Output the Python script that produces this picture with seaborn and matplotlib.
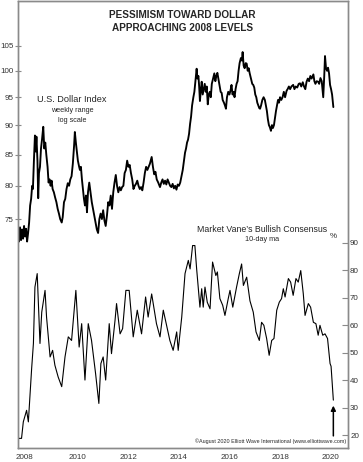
import numpy as np
import pandas as pd
import matplotlib
matplotlib.use("Agg")
import matplotlib.pyplot as plt
import seaborn as sns

# ---------------- data ----------------
usd_year = [2008.13, 2008.17, 2008.21, 2008.25, 2008.29, 2008.33, 2008.37, 2008.41, 2008.45, 2008.49,
            2008.53, 2008.57, 2008.61, 2008.65, 2008.69, 2008.72, 2008.76, 2008.80, 2008.83, 2008.86,
            2008.90, 2008.93, 2008.96, 2009.00, 2009.04, 2009.08, 2009.13, 2009.17, 2009.21, 2009.25,
            2009.30, 2009.34, 2009.38, 2009.42, 2009.46, 2009.50, 2009.55, 2009.60, 2009.65, 2009.70,
            2009.75, 2009.80, 2009.86, 2009.90, 2009.95, 2010.00, 2010.05, 2010.10, 2010.15, 2010.20,
            2010.25, 2010.30, 2010.35, 2010.38, 2010.42, 2010.46, 2010.50, 2010.55, 2010.58, 2010.62,
            2010.66, 2010.70, 2010.74, 2010.78, 2010.82, 2010.86, 2010.90, 2010.95, 2011.00, 2011.05,
            2011.10, 2011.15, 2011.20, 2011.25, 2011.30, 2011.35, 2011.40, 2011.45, 2011.50, 2011.55,
            2011.60, 2011.65, 2011.70, 2011.75, 2011.80, 2011.85, 2011.90, 2011.95, 2012.00, 2012.05,
            2012.10, 2012.15, 2012.20, 2012.25, 2012.30, 2012.35, 2012.40, 2012.45, 2012.50, 2012.55,
            2012.60, 2012.65, 2012.70, 2012.75, 2012.80, 2012.85, 2012.90, 2012.95, 2013.00, 2013.05,
            2013.10, 2013.15, 2013.20, 2013.25, 2013.30, 2013.35, 2013.42, 2013.47, 2013.52, 2013.57,
            2013.62, 2013.68, 2013.75, 2013.80, 2013.85, 2013.90, 2013.95, 2014.00, 2014.05, 2014.10,
            2014.15, 2014.20, 2014.25, 2014.30, 2014.35, 2014.40, 2014.45, 2014.50, 2014.55, 2014.60,
            2014.65, 2014.70, 2014.74, 2014.78, 2014.82, 2014.86, 2014.90, 2014.94, 2014.98, 2015.02,
            2015.07, 2015.11, 2015.15, 2015.20, 2015.23, 2015.27, 2015.30, 2015.33, 2015.37, 2015.40,
            2015.44, 2015.48, 2015.52, 2015.56, 2015.60, 2015.64, 2015.68, 2015.72, 2015.76, 2015.80,
            2015.85, 2015.90, 2015.94, 2015.98, 2016.02, 2016.06, 2016.10, 2016.15, 2016.19, 2016.23,
            2016.28, 2016.32, 2016.36, 2016.40, 2016.45, 2016.50, 2016.55, 2016.58, 2016.62, 2016.66,
            2016.70, 2016.74, 2016.78, 2016.82, 2016.86, 2016.90, 2016.95, 2016.99, 2017.02, 2017.06,
            2017.10, 2017.14, 2017.18, 2017.22, 2017.26, 2017.30, 2017.35, 2017.40, 2017.44, 2017.48,
            2017.52, 2017.56, 2017.60, 2017.64, 2017.68, 2017.71, 2017.75, 2017.80, 2017.85, 2017.90,
            2017.94, 2017.98, 2018.02, 2018.06, 2018.10, 2018.14, 2018.18, 2018.22, 2018.26, 2018.30,
            2018.34, 2018.38, 2018.42, 2018.46, 2018.50, 2018.55, 2018.60, 2018.65, 2018.70, 2018.76,
            2018.80, 2018.85, 2018.90, 2018.95, 2019.02, 2019.07, 2019.12, 2019.18, 2019.24, 2019.29,
            2019.34, 2019.40, 2019.45, 2019.50, 2019.55, 2019.60, 2019.65, 2019.70, 2019.75, 2019.82,
            2019.86, 2019.90, 2019.95, 2020.01, 2020.05, 2020.10, 2020.15, 2020.21, 2020.25, 2020.28,
            2020.32, 2020.36, 2020.40, 2020.44, 2020.48, 2020.52, 2020.56, 2020.61]
usd_value = [73.5, 71.8, 73.8, 72.0, 73.5, 72.2, 74.0, 72.5, 73.6, 71.8,
             73.0, 74.5, 77.0, 78.0, 80.0, 79.5, 84.0, 88.2, 85.5, 88.0,
             84.0, 78.1, 82.0, 83.0, 86.0, 87.5, 89.7, 86.0, 87.0, 85.0,
             83.0, 80.5, 81.0, 80.0, 80.8, 79.5, 79.0, 78.2, 77.5, 76.5,
             75.8, 75.0, 74.5, 75.3, 77.5, 78.0, 79.5, 80.4, 80.0, 81.0,
             81.5, 83.5, 86.5, 88.8, 87.0, 85.5, 84.0, 83.0, 82.5, 83.0,
             81.0, 79.5, 78.0, 77.0, 78.5, 76.0, 79.0, 80.5, 79.0, 77.5,
             76.5, 75.5, 74.5, 73.5, 73.0, 75.0, 75.8, 75.0, 76.3, 74.8,
             74.0, 75.5, 77.5, 77.0, 78.5, 76.5, 79.0, 80.5, 81.7, 80.0,
             79.0, 79.8, 79.3, 79.8, 80.0, 82.0, 82.5, 84.0, 83.0, 83.3,
             82.0, 81.0, 79.5, 80.0, 80.3, 80.8, 80.0, 79.5, 79.8, 79.3,
             80.5, 82.0, 83.0, 82.5, 83.0, 83.5, 84.6, 83.0, 81.8, 82.2,
             81.0, 80.5, 79.8, 80.5, 81.0, 80.3, 80.8, 80.2, 81.0, 80.5,
             80.0, 79.8, 80.3, 79.6, 80.0, 79.4, 80.2, 80.0, 80.5, 81.5,
             82.5, 84.0, 85.3, 86.0, 87.0, 87.5, 88.5, 90.2, 91.5, 93.5,
             95.0, 96.0, 98.0, 100.4, 98.5, 99.0, 97.0, 94.3, 96.5, 97.9,
             95.5, 96.5, 97.5, 96.0, 97.0, 93.7, 95.5, 96.0, 95.0, 97.5,
             98.5, 99.5, 98.0, 99.0, 99.6, 98.5, 97.5, 96.0, 95.8, 94.5,
             94.0, 93.5, 92.9, 95.0, 96.0, 95.5, 96.5, 97.3, 95.5, 96.0,
             95.0, 96.5, 97.5, 98.0, 100.0, 101.5, 102.5, 102.0, 103.7, 101.0,
             100.5, 101.5, 101.4, 100.0, 100.5, 99.5, 98.5, 97.5, 97.3, 96.8,
             95.5, 95.0, 94.0, 93.5, 93.0, 92.9, 93.5, 94.5, 95.0, 94.5,
             93.5, 92.5, 91.0, 90.0, 89.6, 89.0, 90.0, 89.5, 90.0, 91.3,
             92.5, 93.5, 94.5, 94.0, 95.0, 94.5, 95.0, 96.0, 95.0, 96.2,
             96.5, 97.0, 96.5, 97.0, 97.3, 96.5, 97.0, 96.8, 97.5, 97.6,
             97.0, 97.8, 97.0, 96.5, 97.9, 98.5, 98.0, 99.0, 98.5, 99.3,
             98.0, 97.5, 98.0, 97.9, 97.5, 98.6, 98.0, 95.0, 99.0, 102.9,
             100.5, 100.0, 100.6, 99.5, 97.3, 96.5, 95.5, 93.2]

mv_year = [2008.14, 2008.27, 2008.34, 2008.47, 2008.54, 2008.67, 2008.74, 2008.80, 2008.89, 2009.00,
           2009.07, 2009.20, 2009.26, 2009.40, 2009.50, 2009.59, 2009.72, 2009.86, 2009.99, 2010.12,
           2010.25, 2010.42, 2010.55, 2010.65, 2010.78, 2010.91, 2011.04, 2011.20, 2011.33, 2011.41,
           2011.50, 2011.60, 2011.74, 2011.83, 2011.97, 2012.03, 2012.17, 2012.27, 2012.40, 2012.53,
           2012.69, 2012.85, 2013.02, 2013.18, 2013.28, 2013.42, 2013.61, 2013.75, 2013.88, 2014.14,
           2014.27, 2014.41, 2014.47, 2014.61, 2014.74, 2014.87, 2014.94, 2015.04, 2015.13, 2015.20,
           2015.33, 2015.40, 2015.46, 2015.53, 2015.62, 2015.73, 2015.83, 2015.96, 2016.02, 2016.12,
           2016.23, 2016.32, 2016.45, 2016.52, 2016.63, 2016.78, 2016.89, 2016.98, 2017.05, 2017.18,
           2017.31, 2017.44, 2017.55, 2017.68, 2017.77, 2017.86, 2017.97, 2018.07, 2018.17, 2018.26,
           2018.37, 2018.47, 2018.56, 2018.63, 2018.70, 2018.83, 2018.92, 2019.02, 2019.13, 2019.22,
           2019.32, 2019.42, 2019.49, 2019.62, 2019.71, 2019.82, 2019.92, 2020.01, 2020.08, 2020.19,
           2020.28, 2020.38, 2020.48, 2020.52, 2020.61]
mv_value = [18.8, 18.8, 24.8, 29.0, 24.8, 44.2, 53.3, 73.8, 78.7, 53.3,
            64.7, 72.6, 62.9, 48.4, 50.8, 45.4, 41.1, 37.6, 48.4, 55.7,
            54.4, 72.6, 52.0, 60.5, 40.0, 60.5, 54.4, 42.4, 31.5, 46.0,
            48.4, 40.0, 60.5, 49.6, 61.7, 67.8, 56.8, 58.7, 72.6, 72.6,
            55.7, 65.4, 56.8, 70.2, 62.9, 71.3, 60.5, 55.7, 65.4, 54.4,
            50.8, 57.5, 50.8, 62.9, 78.7, 83.5, 80.4, 88.9, 88.9, 80.4,
            66.5, 73.2, 66.5, 73.8, 68.3, 65.9, 82.9, 78.0, 79.3, 69.6,
            67.2, 63.5, 69.6, 72.6, 66.5, 73.8, 78.7, 82.2, 74.4, 77.4,
            68.8, 64.7, 57.5, 54.4, 61.0, 59.9, 55.1, 49.0, 54.4, 55.1,
            65.4, 68.3, 69.6, 73.2, 70.2, 76.9, 75.6, 70.8, 76.9, 75.6,
            79.8, 71.4, 63.5, 67.8, 66.5, 61.0, 60.5, 56.3, 59.9, 56.3,
            56.8, 55.1, 46.0, 45.0, 32.7]

left_ticks = [75, 80, 85, 90, 95, 100, 105]
right_ticks = [20, 30, 40, 50, 60, 70, 80, 90]
year_ticks = [2009, 2010, 2011, 2012, 2013, 2014, 2015, 2016, 2017, 2018, 2019, 2020]
year_labels = ["2008", "2010", "2012", "2014", "2016", "2018", "2020"]
year_label_pos = [2008.4, 2010.5, 2012.5, 2014.5, 2016.5, 2018.5, 2020.5]

usd_df = pd.DataFrame({"year": usd_year, "value": usd_value})
mv_df = pd.DataFrame({"year": mv_year, "value": mv_value})

# ---------------- style ----------------
sns.set_style("white")
plt.rcParams["font.family"] = ["Liberation Sans", "DejaVu Sans"]
spine_col = "#8a8a8a"
tick_col = "#333333"

fig = plt.figure(figsize=(3.63, 4.62), dpi=100)
ax = fig.add_axes([18 / 363, 1 - 448 / 462, 330 / 363, 447 / 462])
ax2 = ax.twinx()

sns.lineplot(data=usd_df, x="year", y="value", ax=ax, color="black",
             linewidth=1.35, estimator=None, sort=False)
sns.lineplot(data=mv_df, x="year", y="value", ax=ax2, color="black",
             linewidth=0.8, estimator=None, sort=False)

ax.set_yscale("log")
ax.set_ylim(48.1, 114.5)
ax.set_yticks(left_ticks)
ax.set_yticklabels([str(t) for t in left_ticks])
ax.yaxis.set_minor_locator(matplotlib.ticker.NullLocator())
ax.set_xlim(2008.13, 2021.19)
ax.set_xticks(year_ticks)
ax.set_xticklabels([""] * len(year_ticks))
ax.set_xticks(year_label_pos, minor=True)
ax.set_xticklabels(year_labels, minor=True)
ax.tick_params(axis="x", which="major", direction="inout", length=4.5, width=0.8,
               color=spine_col)
ax.tick_params(axis="x", which="minor", length=0, pad=4, labelsize=5.8, labelcolor=tick_col)
ax.tick_params(axis="y", which="major", direction="inout", length=4.5, width=0.8,
               color=spine_col, labelsize=5.8, labelcolor=tick_col, pad=1)
ax.set_xlabel("")
ax.set_ylabel("")

ax2.set_ylim(15.3, 177.8)
ax2.set_yticks(right_ticks)
ax2.set_yticklabels([str(t) for t in right_ticks])
ax2.tick_params(axis="y", direction="in", length=4, width=0.8, color=spine_col,
                labelsize=5.8, labelcolor=tick_col, pad=1.5)
ax2.set_ylabel("")

for a in (ax, ax2):
    for s in a.spines.values():
        s.set_color(spine_col)
        s.set_linewidth(1.0)

# ---------------- texts ----------------
fig.text(0.503, 1 - 15 / 462, "PESSIMISM TOWARD DOLLAR", ha="center", va="center",
         fontsize=7.2, fontweight="bold")
fig.text(0.503, 1 - 28 / 462, "APPROACHING 2008 LEVELS", ha="center", va="center",
         fontsize=7.2, fontweight="bold")

fig.text(72 / 363, 1 - 100 / 462, "U.S. Dollar Index", ha="center", va="center", fontsize=6.6)
fig.text(72 / 363, 1 - 111 / 462, "weekly range", ha="center", va="center", fontsize=5.2)
fig.text(72 / 363, 1 - 120 / 462, "log scale", ha="center", va="center", fontsize=5.2)

fig.text(262 / 363, 1 - 230 / 462, "Market Vane\u2019s Bullish Consensus", ha="center",
         va="center", fontsize=6.3)
fig.text(262 / 363, 1 - 240 / 462, "10-day ma", ha="center", va="center", fontsize=5.2)
fig.text(333 / 363, 1 - 236 / 462, "%", ha="center", va="center", fontsize=5.8, color=tick_col)

fig.text(346 / 363, 1 - 441 / 462,
         "\u00a9August 2020 Elliott Wave International (www.elliottwave.com)",
         ha="right", va="center", fontsize=3.9)

# arrow pointing at the latest reading
ax2.annotate("", xy=(mv_year[-1], mv_value[-1] - 2.0),
             xytext=(mv_year[-1], mv_value[-1] - 13.0),
             arrowprops=dict(arrowstyle="-|>", color="black", lw=1.1,
                             mutation_scale=7, shrinkA=0, shrinkB=0))

fig.savefig("out.png", dpi=100)
